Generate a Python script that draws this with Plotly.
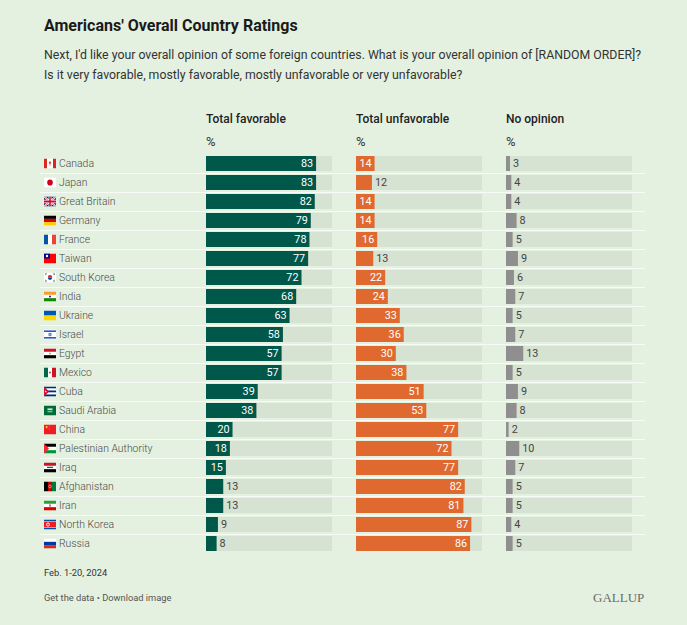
import base64
import math
import plotly.graph_objects as go

W, H = 687, 625

countries = ["Canada", "Japan", "Great Britain", "Germany", "France", "Taiwan",
             "South Korea", "India", "Ukraine", "Israel", "Egypt", "Mexico",
             "Cuba", "Saudi Arabia", "China", "Palestinian Authority", "Iraq",
             "Afghanistan", "Iran", "North Korea", "Russia"]
favorable = [83, 83, 82, 79, 78, 77, 72, 68, 63, 58, 57, 57, 39, 38, 20, 18, 15, 13, 13, 9, 8]
unfavorable = [14, 12, 14, 14, 16, 13, 22, 24, 33, 36, 30, 38, 51, 53, 77, 72, 77, 82, 81, 87, 86]
no_opinion = [3, 4, 4, 8, 5, 9, 6, 7, 5, 7, 13, 5, 9, 8, 2, 10, 7, 5, 5, 4, 5]

column_titles = ["Total favorable", "Total unfavorable", "No opinion"]

BG = "#e4f1e0"
TRACK = "#d6e2d2"
SEP = "#f7fbf5"
COLORS = ["#00584b", "#e0692f", "#8f8f8f"]
FONT = "Roboto"
TRACK_MAX = 95          # axis range covered by the grey track
INSIDE_MIN = 14         # values from here on get their label inside the bar

# row geometry in pixels
ROW_TOP, ROW_PITCH = 154, 19
ROW_BOTTOM = ROW_TOP + ROW_PITCH * len(countries)
PANEL_LEFT = [206, 356, 506]
PANEL_W = 126
FLAG_W, FLAG_H = 12, 10


def px(x):
    return x / W


def py(y):
    return 1 - y / H


# --- tiny flags as svg -------------------------------------------------------
def star(cx, cy, r, fill):
    pts = []
    for k in range(10):
        rr = r if k % 2 == 0 else r * 0.4
        a = -math.pi / 2 + k * math.pi / 5
        pts.append(f"{cx + rr * math.cos(a):.2f},{cy + rr * math.sin(a):.2f}")
    return f'<polygon points="{" ".join(pts)}" fill="{fill}"/>'


def hstripes(*cols):
    h = 9 / len(cols)
    return "".join(f'<rect y="{i * h}" width="12" height="{h + 0.05}" fill="{c}"/>'
                   for i, c in enumerate(cols))


def vstripes(*cols):
    w = 12 / len(cols)
    return "".join(f'<rect x="{i * w}" width="{w + 0.05}" height="9" fill="{c}"/>'
                   for i, c in enumerate(cols))


flags = {
    "Canada": '<rect width="12" height="9" fill="#fff"/><rect width="3" height="9" fill="#d52b1e"/>'
      '<rect x="9" width="3" height="9" fill="#d52b1e"/>'
      '<polygon points="6,2 7.4,4.6 6.3,4.6 6.3,6.6 5.7,6.6 5.7,4.6 4.6,4.6" fill="#d52b1e"/>',
    "Japan": '<rect width="12" height="9" fill="#fff"/><circle cx="6" cy="4.5" r="2.8" fill="#d0021b"/>',
    "Great Britain": '<rect width="12" height="9" fill="#012169"/>'
      '<path d="M0,0L12,9M12,0L0,9" stroke="#fff" stroke-width="1.8"/>'
      '<path d="M0,0L12,9M12,0L0,9" stroke="#c8102e" stroke-width="0.6"/>'
      '<path d="M6,0V9M0,4.5H12" stroke="#fff" stroke-width="3"/>'
      '<path d="M6,0V9M0,4.5H12" stroke="#c8102e" stroke-width="1.6"/>',
    "Germany": hstripes("#000000", "#dd0000", "#ffce00"),
    "France": vstripes("#0055a4", "#ffffff", "#ef4135"),
    "Taiwan": '<rect width="12" height="9" fill="#fe0000"/><rect width="6" height="4.5" fill="#000095"/>'
      '<circle cx="3" cy="2.25" r="1.2" fill="#fff"/>',
    "South Korea": '<rect width="12" height="9" fill="#fff"/>'
      '<path d="M3.8,4.5A2.2,2.2 0 0 1 8.2,4.5Z" fill="#cd2e3a"/>'
      '<path d="M3.8,4.5A2.2,2.2 0 0 0 8.2,4.5Z" fill="#0047a0"/>'
      '<path d="M1,1.6L2.4,0.6M1.4,2.2L2.8,1.2M9.6,0.6L11,1.6M9.2,1.2L10.6,2.2'
      'M1,7.4L2.4,8.4M1.4,6.8L2.8,7.8M9.6,8.4L11,7.4M9.2,7.8L10.6,6.8" stroke="#000" stroke-width="0.5"/>',
    "India": hstripes("#ff9933", "#ffffff", "#138808") + '<circle cx="6" cy="4.5" r="0.9" fill="#000080"/>',
    "Ukraine": hstripes("#0057b7", "#ffd700"),
    "Israel": '<rect width="12" height="9" fill="#fff"/><rect y="0.9" width="12" height="1.2" fill="#0038b8"/>'
      '<rect y="6.9" width="12" height="1.2" fill="#0038b8"/>'
      '<path d="M6,2.9L7.4,5.3H4.6ZM6,6.1L7.4,3.7H4.6Z" fill="none" stroke="#0038b8" stroke-width="0.4"/>',
    "Egypt": hstripes("#ce1126", "#ffffff", "#000000") + '<circle cx="6" cy="4.5" r="0.8" fill="#c09300"/>',
    "Mexico": vstripes("#006847", "#ffffff", "#ce1126") + '<circle cx="6" cy="4.5" r="1" fill="#8c5a2b"/>',
    "Cuba": hstripes("#002a8f", "#ffffff", "#002a8f", "#ffffff", "#002a8f")
      + '<polygon points="0,0 5.2,4.5 0,9" fill="#cf142b"/>' + star(1.8, 4.5, 1.1, "#fff"),
    "Saudi Arabia": '<rect width="12" height="9" fill="#006c35"/>'
      '<rect x="3.5" y="2.6" width="5" height="1.6" fill="#cfe6d6"/><rect x="3.5" y="5.4" width="5" height="0.6" fill="#fff"/>',
    "China": '<rect width="12" height="9" fill="#ee1c25"/>' + star(2.6, 2.4, 1.6, "#ffde00")
      + star(5, 1.1, 0.5, "#ffde00") + star(5.8, 2.2, 0.5, "#ffde00")
      + star(5.8, 3.5, 0.5, "#ffde00") + star(5, 4.5, 0.5, "#ffde00"),
    "Palestinian Authority": hstripes("#000000", "#ffffff", "#009736")
      + '<polygon points="0,0 5,4.5 0,9" fill="#ee2a35"/>',
    "Iraq": hstripes("#ce1126", "#ffffff", "#000000")
      + '<rect x="3" y="3.8" width="6" height="1.2" fill="#007a3d"/>',
    "Afghanistan": vstripes("#000000", "#be0000", "#007a36")
      + '<circle cx="6" cy="4.5" r="1.3" fill="none" stroke="#f2f2f2" stroke-width="0.5"/>',
    "Iran": hstripes("#239f40", "#ffffff", "#da0000")
      + '<rect x="5.4" y="3.5" width="1.2" height="2" fill="#da0000"/>',
    "North Korea": '<rect width="12" height="9" fill="#024fa2"/><rect y="1.5" width="12" height="6" fill="#fff"/>'
      '<rect y="1.9" width="12" height="5.2" fill="#ed1c27"/><circle cx="4" cy="4.5" r="1.8" fill="#fff"/>'
      + star(4, 4.6, 1.6, "#ed1c27"),
    "Russia": hstripes("#ffffff", "#0039a6", "#d52b1e"),
}


def svg_uri(body):
    svg = ('<svg xmlns="http://www.w3.org/2000/svg" width="12" height="9" '
           f'viewBox="0 0 12 9" preserveAspectRatio="none">{body}</svg>')
    return "data:image/svg+xml;base64," + base64.b64encode(svg.encode()).decode()


# --- figure -------------------------------------------------------------------
fig = go.Figure()

# invisible trace on the full-width axes: carries the row separator lines
fig.add_trace(go.Scatter(x=[0] * len(countries), y=countries, mode="markers",
                         marker=dict(opacity=0), hoverinfo="skip",
                         showlegend=False, xaxis="x", yaxis="y"))

series = [favorable, unfavorable, no_opinion]
for k, values in enumerate(series):
    xa = f"x{k + 2}"
    fig.add_trace(go.Bar(
        x=[TRACK_MAX] * len(countries), y=countries, orientation="h",
        marker=dict(color=TRACK, line=dict(width=0)), hoverinfo="skip",
        showlegend=False, xaxis=xa, yaxis="y2"))
    fig.add_trace(go.Bar(
        x=values, y=countries, orientation="h",
        marker=dict(color=COLORS[k], line=dict(width=0)),
        text=[str(v) for v in values],
        textposition=["inside" if v >= INSIDE_MIN else "outside" for v in values],
        insidetextanchor="end", constraintext="none", cliponaxis=False, textangle=0,
        insidetextfont=dict(family=FONT, size=10.8, color="#ffffff"),
        outsidetextfont=dict(family=FONT, size=10.8, color="#444444"),
        hovertemplate="%{y}: %{x}%<extra></extra>",
        showlegend=False, xaxis=xa, yaxis="y2"))

ydom = [py(ROW_BOTTOM), py(ROW_TOP)]
yrange = [len(countries) - 0.5, -0.5]

layout_axes = dict(
    xaxis=dict(domain=[px(40), px(645)], range=[0, 1], visible=False, fixedrange=True),
    yaxis=dict(domain=ydom, anchor="x", type="category", range=yrange,
               tickson="boundaries", showgrid=True, gridcolor=SEP, gridwidth=1,
               showticklabels=False, ticks="", zeroline=False, showline=False,
               fixedrange=True),
    yaxis2=dict(domain=ydom, anchor="x2", type="category", range=yrange,
                visible=False, fixedrange=True),
)
for k, left in enumerate(PANEL_LEFT):
    layout_axes[f"xaxis{k + 2}"] = dict(domain=[px(left), px(left + PANEL_W)],
                                        range=[0, TRACK_MAX], anchor="y2",
                                        visible=False, fixedrange=True)

annotations = []


def add_text(x, y, text, size, color, weight=None, family=FONT, xanchor="left"):
    font = dict(family=family, size=size, color=color)
    if weight:
        font["weight"] = weight
    shift = -2 if xanchor == "left" else 2   # annotation box padding
    annotations.append(dict(x=px(x + shift), y=py(y), xref="paper", yref="paper", text=text,
                            showarrow=False, xanchor=xanchor, yanchor="middle",
                            font=font))


add_text(44, 25, "Americans' Overall Country Ratings", 16, "#1a1a1a", weight="bold")
add_text(44, 55, "Next, I'd like your overall opinion of some foreign countries. "
         "What is your overall opinion of [RANDOM ORDER]?", 12.3, "#333333")
add_text(44, 75, "Is it very favorable, mostly favorable, mostly unfavorable or very unfavorable?",
         12.3, "#333333")
for left, title in zip(PANEL_LEFT, column_titles):
    add_text(left, 119, title, 12, "#222222", weight=500)
    add_text(left, 141, "%", 13, "#333333")

images = []
for i, name in enumerate(countries):
    yc = ROW_TOP + ROW_PITCH * (i + 0.5)
    add_text(59, yc, name, 10.4, "#4a4a4a", weight=300)
    images.append(dict(source=svg_uri(flags[name]), xref="paper", yref="paper",
                       x=px(44), y=py(yc - FLAG_H / 2), sizex=FLAG_W / W, sizey=FLAG_H / H,
                       xanchor="left", yanchor="top", sizing="stretch", layer="above"))

add_text(44, 572, "Feb. 1-20, 2024", 9.3, "#333333")
add_text(44, 597, "Get the data • Download image", 9.3, "#555555")
add_text(644, 597, "GALLUP", 13, "#6b6b6b", family="Liberation Serif", xanchor="right")

fig.update_layout(
    width=W, height=H,
    margin=dict(l=0, r=0, t=0, b=0),
    paper_bgcolor=BG, plot_bgcolor="rgba(0,0,0,0)",
    barmode="overlay", bargap=0.21,
    annotations=annotations, images=images,
    **layout_axes,
)

# drop the default page margin so the figure fills the window
fig.write_html("out.html", config={"displayModeBar": False}, post_script=(
    "document.body.style.margin='0';"
    "document.body.style.overflow='hidden';"
    f"document.body.style.background='{BG}';"))
